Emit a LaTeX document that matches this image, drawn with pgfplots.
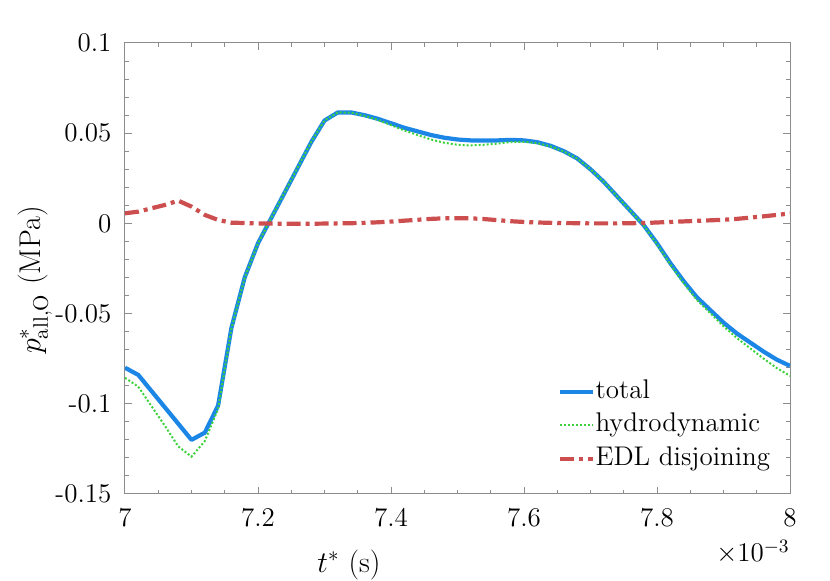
\documentclass[border=0pt]{standalone}
\usepackage{fix-cm}
\usepackage{fontspec}
\usepackage{pgfplots}
\usepackage{pgfplotstable}
\pgfplotsset{compat=1.18}
\definecolor{cTot}{RGB}{28,134,230}
\definecolor{cHyd}{RGB}{60,210,60}
\definecolor{cEdl}{RGB}{205,78,78}
\definecolor{cAx}{RGB}{140,140,140}
\pgfplotstableread{
t tot hyd edl
7.00 -0.0800 -0.0856 0.0056
7.02 -0.0840 -0.0905 0.0065
7.04 -0.0930 -0.1014 0.0084
7.06 -0.1020 -0.1122 0.0102
7.08 -0.1110 -0.1236 0.0126
7.10 -0.1200 -0.1293 0.0093
7.12 -0.1160 -0.1207 0.0047
7.14 -0.1010 -0.1029 0.0019
7.16 -0.0580 -0.0584 0.0004
7.18 -0.0300 -0.0302 0.0002
7.20 -0.0110 -0.0110 0.0000
7.22 0.0030 0.0031 -0.0001
7.24 0.0170 0.0172 -0.0002
7.26 0.0310 0.0312 -0.0002
7.28 0.0450 0.0452 -0.0002
7.30 0.0570 0.0571 -0.0001
7.32 0.0615 0.0615 0.0000
7.34 0.0615 0.0614 0.0001
7.36 0.0600 0.0597 0.0003
7.38 0.0580 0.0574 0.0006
7.40 0.0555 0.0545 0.0010
7.42 0.0530 0.0515 0.0015
7.44 0.0510 0.0490 0.0020
7.46 0.0490 0.0465 0.0025
7.48 0.0475 0.0447 0.0028
7.50 0.0465 0.0436 0.0029
7.52 0.0460 0.0432 0.0028
7.54 0.0460 0.0436 0.0024
7.56 0.0460 0.0442 0.0018
7.58 0.0463 0.0451 0.0012
7.60 0.0460 0.0452 0.0008
7.62 0.0450 0.0445 0.0005
7.64 0.0430 0.0427 0.0003
7.66 0.0400 0.0398 0.0002
7.68 0.0360 0.0359 0.0001
7.70 0.0300 0.0300 0.0000
7.72 0.0230 0.0230 0.0000
7.74 0.0150 0.0150 0.0000
7.76 0.0070 0.0069 0.0001
7.78 -0.0010 -0.0012 0.0002
7.80 -0.0110 -0.0115 0.0005
7.82 -0.0220 -0.0228 0.0008
7.84 -0.0320 -0.0331 0.0011
7.86 -0.0410 -0.0424 0.0014
7.88 -0.0480 -0.0497 0.0017
7.90 -0.0550 -0.0570 0.0020
7.92 -0.0610 -0.0635 0.0025
7.94 -0.0660 -0.0692 0.0032
7.96 -0.0710 -0.0749 0.0039
7.98 -0.0755 -0.0802 0.0047
8.00 -0.0790 -0.0845 0.0055
}\datatab
\newcommand\fs{\fontsize{13.5}{16}\selectfont}
\newcommand\fl{\fontsize{15}{18}\selectfont}
\begin{document}
\begin{tikzpicture}
\useasboundingbox (-62.5pt,-43.5pt) rectangle (352.5pt,247pt);
\begin{axis}[
  at={(0pt,0pt)}, anchor=south west,
  scale only axis, width=332.5pt, height=225.5pt,
  xmin=7, xmax=8, ymin=-0.15, ymax=0.1,
  xtick={7,7.2,7.4,7.6,7.8,8},
  xticklabels={7,7.2,7.4,7.6,7.8,8},
  ytick={-0.15,-0.1,-0.05,0,0.05,0.1},
  yticklabels={-0.15,-0.1,-0.05,0,0.05,0.1},
  minor x tick num=3, minor y tick num=4,
  scaled x ticks=false, scaled y ticks=false,
  tick align=inside,
  major tick length=3.5pt, minor tick length=2pt,
  axis line style={cAx, line width=0.5pt},
  every tick/.style={cAx, line width=0.5pt},
  every minor tick/.style={cAx, line width=0.5pt},
  tick label style={font=\fs, text=black},
  yticklabel style={xshift=-3.3pt},
  xticklabel style={yshift=-3.5pt},
  legend cell align=left,
  legend image code/.code={\draw[#1] (0pt,0pt) -- (16.5pt,0pt);},
  legend style={draw=none, fill=none, at={(rel axis cs:0.651,0.2643)}, anchor=north west,
    inner xsep=0pt, inner ysep=0pt, row sep=0.3pt, column sep=-2pt,
    nodes={inner sep=2pt, text height=9.5pt, text depth=3pt},
    font=\fs},
]
\addplot[cTot, line width=2.1pt, line join=round] table[x=t, y=tot] {\datatab};
\addlegendentry{total}
\addplot[cHyd, line width=1pt, dash pattern=on 1pt off 1pt] table[x=t, y=hyd] {\datatab};
\addlegendentry{hydrodynamic}
\addplot[cEdl, line width=2.1pt, dash pattern=on 7pt off 2.5pt on 2pt off 2.5pt] table[x=t, y=edl] {\datatab};
\addlegendentry{EDL disjoining}
\end{axis}
\node[font=\fl] at (112pt,-35.5pt) {$t^*$\ (s)};
\node[font=\fl, rotate=90] at (-45pt,107pt) {$p^*_{\mathrm{all,O}}$\ (MPa)};
\node[font=\fs, anchor=east, inner sep=0pt] at (332.5pt,-29pt) {$\times10^{-3}$};
\end{tikzpicture}
\end{document}
